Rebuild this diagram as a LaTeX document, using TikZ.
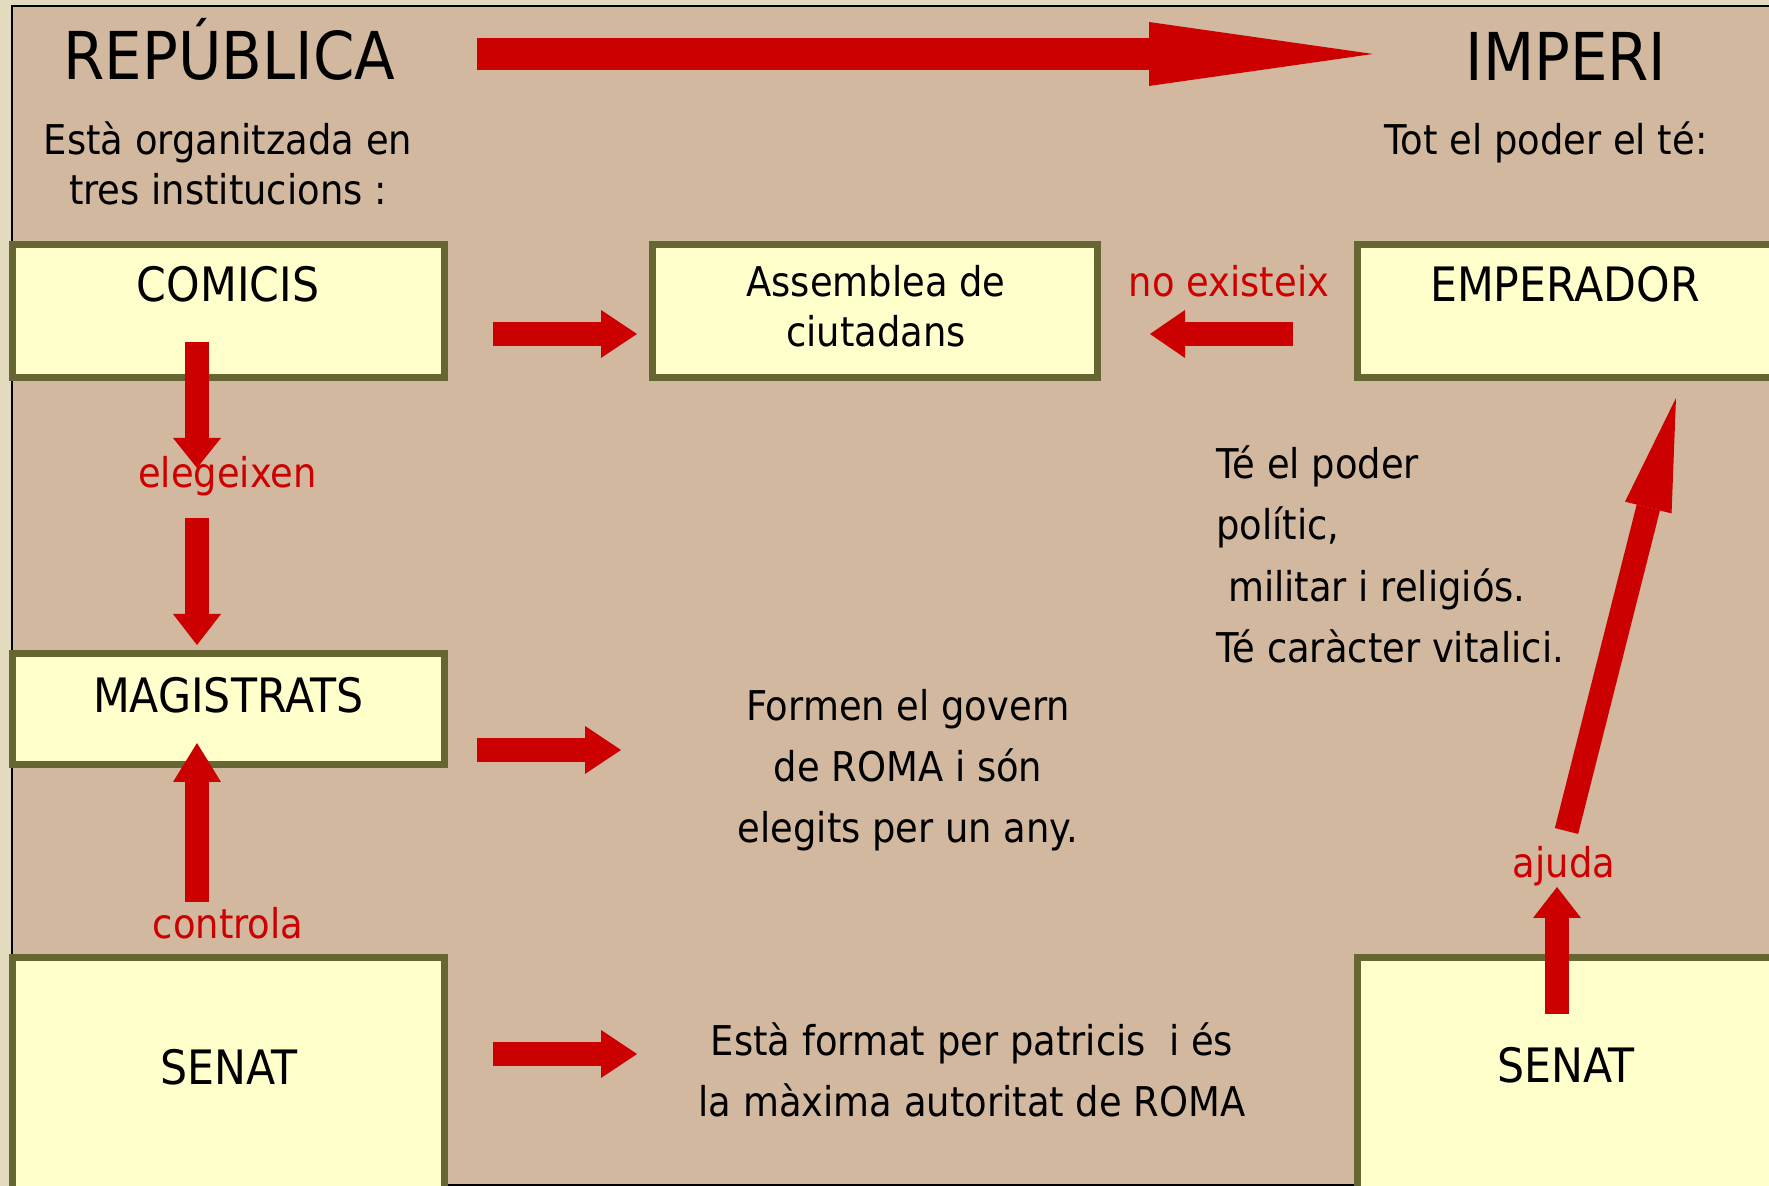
\documentclass[tikz,border=0pt]{standalone}
\usepackage{fontspec}
\setmainfont{DejaVu Sans}[FakeStretch=0.9]
\usetikzlibrary{%
  arrows.meta,%
  positioning%
}
\definecolor{paper}{HTML}{E3DBBD}
\definecolor{slide}{HTML}{D1B89E}
\definecolor{boxfill}{HTML}{FFFFCC}
\definecolor{boxline}{HTML}{666633}
\definecolor{arrowred}{HTML}{CC0000}
\tikzset{inst/.style = {draw=boxline, fill=boxfill, line width=3.5pt, inner sep=0pt},
  headline/.style = {anchor=base, inner sep=0pt, font=\fontsize{33}{40}\selectfont},
  insttext/.style = {anchor=base, inner sep=0pt, font=\fontsize{23.7}{28}\selectfont},
  body/.style = {anchor=base, inner sep=0pt, font=\fontsize{20.5}{25}\selectfont},
  redtext/.style = {body, text=arrowred},
  redarrow/.style = {draw=arrowred, line width=12pt,
    -{Triangle[width=24pt, length=#1, line width=0pt]}},
  redarrow/.default = 18pt}

\begin{document}
\begin{tikzpicture}[x=0.5pt, y=-0.5pt]
    \useasboundingbox (0,0) rectangle (1769,1186);
    \clip (0,0) rectangle (1769,1186);
    \fill[paper] (0,0) rectangle (1769,1186);
    \draw[fill=slide, line width=1pt] (1800,6) -- (12,6) -- (12,1185) -- (1800,1185);

    \node[headline] (rep) at (229.5,80) {REPÚBLICA};
    \node[headline] (imp) at (1566,81) {IMPERI};
    \node[body, align=center] (org) at (228,205) {Està organitzada en\\tres institucions :};
    \node[body] (tot) at (1546,155) {Tot el poder el té:};

    \node[inst, minimum width=216pt, minimum height=66.5pt] (comicisbox) at (228.5,311) {};
    \node[inst, minimum width=222.5pt, minimum height=66.5pt] (assembleabox) at (875,311) {};
    \node[inst, minimum width=221.5pt, minimum height=66.5pt] (emperadorbox) at (1578.5,311) {};
    \node[inst, minimum width=216pt, minimum height=55.5pt] (magistratsbox) at (228.5,709.5) {};
    \node[inst, minimum width=216pt, minimum height=146.25pt] (senatbox) at (228.5,1103.75) {};
    \node[inst, minimum width=221.5pt, minimum height=146.25pt] (senatimpbox) at (1578.5,1103.75) {};

    \node[insttext] (comicis) at (228,302) {COMICIS};
    \node[body, align=center] (assemblea) at (876,347) {Assemblea de\\ciutadans};
    \node[insttext] (emperador) at (1565,302) {EMPERADOR};
    \node[insttext] (magistrats) at (228.5,713) {MAGISTRATS};
    \node[insttext] (senat) at (229,1085) {SENAT};
    \node[insttext] (senatimp) at (1566,1083) {SENAT};

    \node[redtext] (noexist) at (1229,297) {no existeix};
    \node[redtext] (elegeixen) at (227.5,488) {elegeixen};
    \node[redtext] (controla) at (228,939) {controla};
    \node[redtext] (ajuda) at (1564,878) {ajuda};

    \node[body, align=center, font=\fontsize{20.5}{30.5}\selectfont] (govern) at (908,843)
      {Formen el govern\\de ROMA i són\\elegits per un any.};
    \node[body, anchor=base west, align=left, font=\fontsize{20.5}{30.8}\selectfont] (poder) at (1216,663)
      {Té el poder\\polític,\\\ militar i religiós.\\Té caràcter vitalici.};
    \node[body, align=center, font=\fontsize{20.5}{31}\selectfont] (patricis) at (972,1117)
      {Està format per patricis\ \ i és\\la màxima autoritat de ROMA};

    \coordinate (a0) at (477,54);   \coordinate (b0) at (1373,54);
    \coordinate (a1) at (493,334);  \coordinate (b1) at (637,334);
    \coordinate (a2) at (1293,334); \coordinate (b2) at (1150,334);
    \coordinate (a3) at (197,342);  \coordinate (b3) at (197,468);
    \coordinate (a4) at (197,518);  \coordinate (b4) at (197,645);
    \coordinate (a5) at (197,902);  \coordinate (b5) at (197,743);
    \coordinate (a6) at (477,750);  \coordinate (b6) at (621,750);
    \coordinate (a7) at (493,1054); \coordinate (b7) at (637,1054);
    \coordinate (a8) at (1557,1014); \coordinate (b8) at (1557,887);
    \coordinate (a9) at (1566.5,831); \coordinate (b9) at (1676,398);

    \draw[redarrow=112pt, line width=16pt, -{Triangle[width=32pt, length=112pt, line width=0pt]}] (a0) -- (b0);
    \draw[redarrow] (a1) -- (b1);
    \draw[redarrow=17.5pt] (a2) -- (b2);
    \draw[redarrow=15pt] (a3) -- (b3);
    \draw[redarrow=15.5pt] (a4) -- (b4);
    \draw[redarrow=19.5pt] (a5) -- (b5);
    \draw[redarrow] (a6) -- (b6);
    \draw[redarrow] (a7) -- (b7);
    \draw[redarrow=15.5pt] (a8) -- (b8);
    \draw[redarrow=56.5pt] (a9) -- (b9);
  \end{tikzpicture}
\end{document}
